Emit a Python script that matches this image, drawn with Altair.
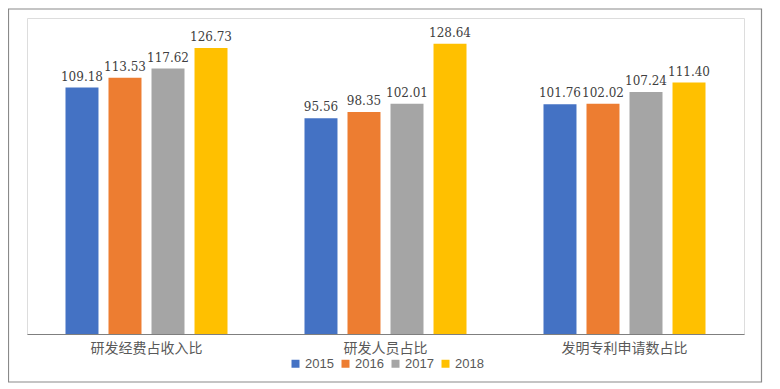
import altair as alt
import pandas as pd

categories = ["研发经费占收入比", "研发人员占比", "发明专利申请数占比"]
years = ["2015", "2016", "2017", "2018"]
values_2015 = [109.18, 95.56, 101.76]
values_2016 = [113.53, 98.35, 102.02]
values_2017 = [117.62, 102.01, 107.24]
values_2018 = [126.73, 128.64, 111.40]
colors = ["#4472C4", "#ED7D31", "#A5A5A5", "#FFC000"]

series = [values_2015, values_2016, values_2017, values_2018]
rows = []
for y, vals in zip(years, series):
    for c, v in zip(categories, vals):
        rows.append({"category": c, "year": y, "value": v})
df = pd.DataFrame(rows)

x_enc = alt.X("category:N", sort=categories,
              scale=alt.Scale(paddingInner=0, paddingOuter=0),
              axis=alt.Axis(title=None, labelAngle=0, ticks=False, labelPadding=7,
                            labelFontSize=14, labelColor="#595959",
                            labelFont="Noto Sans CJK SC",
                            domainColor="#7f7f7f", domainWidth=1))
xo_enc = alt.XOffset("year:N", sort=years,
                     scale=alt.Scale(paddingInner=0.233, paddingOuter=0.895))
y_enc = alt.Y("value:Q", scale=alt.Scale(domain=[0, 140], nice=False), axis=None)

base = alt.Chart(df)

bars = base.mark_bar().encode(
    x=x_enc, xOffset=xo_enc, y=y_enc,
    color=alt.Color("year:N", sort=years,
                    scale=alt.Scale(domain=years, range=colors),
                    legend=alt.Legend(title=None, orient="none", direction="horizontal",
                                      legendX=262, legendY=339,
                                      symbolType="square", symbolSize=64,
                                      symbolStrokeWidth=0,
                                      labelFontSize=13, labelFont="Liberation Sans",
                                      labelColor="#595959", labelOffset=3,
                                      columnPadding=5)),
)

labels = base.mark_text(baseline="bottom", dy=-4, fontSize=12,
                        font="DejaVu Serif", color="#404040").encode(
    x=x_enc, xOffset=xo_enc, y=y_enc,
    text=alt.Text("value:Q", format=".2f"),
)

border = alt.Chart(pd.DataFrame({"a": [0]})).mark_rect(
    fillOpacity=0, stroke="#8a8a8a", strokeWidth=1.2
).encode(
    x=alt.value(-18.5), x2=alt.value(734.5),
    y=alt.value(-9), y2=alt.value(364),
)

chart = alt.layer(bars, labels, border).properties(
    width=717, height=316,
    padding={"left": 19, "top": 10, "right": 20, "bottom": 50},
    autosize="none",
).configure_view(stroke=None).configure(background="white")

chart.save("out.html", embed_options={"renderer": "svg", "actions": False})
